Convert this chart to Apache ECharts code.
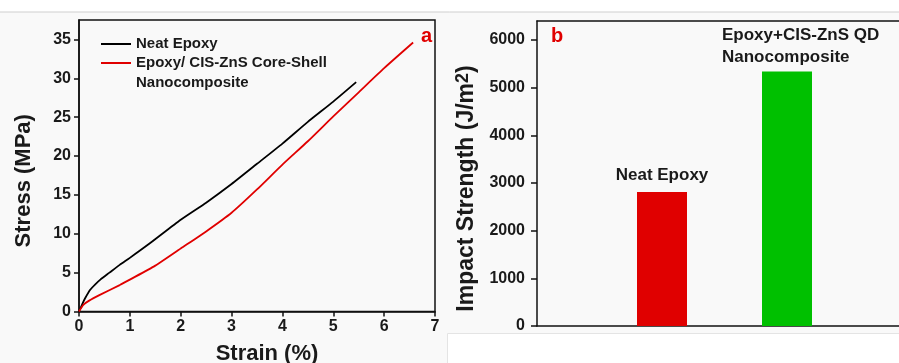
<!DOCTYPE html>
<html>
<head>
<meta charset="utf-8">
<script src="https://cdn.jsdelivr.net/npm/echarts@6/dist/echarts.min.js"></script>
<style>
  html, body { margin: 0; padding: 0; background: #f9f9f9; }
  #chart { width: 899px; height: 363px; }
</style>
</head>
<body>
<div id="chart"></div>
<script>
// panel a: stress-strain curves, [strain %, stress MPa]
var neatEpoxy = [[0, 0], [0.06, 0.9], [0.12, 1.7], [0.22, 2.8], [0.32, 3.5], [0.42, 4.1], [0.6, 5.0],
  [0.8, 6.0], [1.0, 6.9], [1.4, 8.8], [2.0, 11.8], [2.5, 14.0], [3.0, 16.4], [3.5, 19.0],
  [4.0, 21.6], [4.5, 24.4], [5.0, 27.0], [5.45, 29.5]];
var nanoComposite = [[0, 0], [0.085, 0.86], [0.2, 1.4], [0.41, 2.14], [0.8, 3.4], [1.0, 4.1],
  [1.5, 5.9], [2.0, 8.1], [2.5, 10.3], [3.0, 12.7], [3.5, 15.7], [4.0, 18.9], [4.5, 21.9],
  [5.0, 25.1], [5.5, 28.2], [6.0, 31.3], [6.57, 34.6]];
var curveNames = ['Neat Epoxy', 'Epoxy/ CIS-ZnS Core-Shell\nNanocomposite'];
var curveColors = ['#000000', '#e00000'];

// panel b: impact strength (J/m2)
var barNames = ['Neat Epoxy', 'Epoxy+CIS-ZnS QD\nNanocomposite'];
var barPos = [1, 2];
var impactValues = [2810, 5340];
var barColors = ['#e00000', '#00c000'];

var chart = echarts.init(document.getElementById('chart'));
var font = 'Liberation Sans, Arial, sans-serif';
var ink = '#1a1a1a';
var tickLabel = { color: ink, fontWeight: 'bold', fontSize: 16, fontFamily: font };
var axisLine = { lineStyle: { color: '#111', width: 1.5 } };
var tick = { length: 5, lineStyle: { color: '#111', width: 1.5 } };

var barData = [];
for (var i = 0; i < impactValues.length; i++) {
  var lab = { show: true, position: 'top', formatter: barNames[i],
    color: ink, fontWeight: 'bold', fontSize: 17, fontFamily: font, lineHeight: 22, distance: 6 };
  if (i == 1) { lab.align = 'left'; lab.offset = [-65, 0]; lab.distance = 3; }
  barData.push({ value: [barPos[i], impactValues[i]], itemStyle: { color: barColors[i] }, label: lab });
}

var option = {
  backgroundColor: '#f9f9f9',
  animation: false,
  title: [
    { text: 'a', left: 416, top: 21, textStyle: { color: '#e00000', fontSize: 20, fontWeight: 'bold', fontFamily: font } },
    { text: 'b', left: 546, top: 21, textStyle: { color: '#e00000', fontSize: 20, fontWeight: 'bold', fontFamily: font } }
  ],
  graphic: [
    { type: 'rect', left: 0, top: 0, shape: { width: 899, height: 12 }, style: { fill: '#fff' }, z: -1 },
    { type: 'line', shape: { x1: 0, y1: 12, x2: 899, y2: 12 }, style: { stroke: '#cfcfcf', lineWidth: 1 } },
    { type: 'rect', left: 447, top: 333, shape: { width: 452, height: 30 }, style: { fill: '#fff', stroke: '#e4e4e4' }, z: -1 }
  ],
  legend: {
    orient: 'vertical',
    left: 101, top: 33, padding: 0,
    itemWidth: 30, itemHeight: 2, itemGap: -21,
    icon: 'rect',
    data: [
      { name: curveNames[0], itemStyle: { color: curveColors[0] } },
      { name: curveNames[1], itemStyle: { color: curveColors[1] } }
    ],
    // blank first line keeps the swatch level with the first text line
    formatter: function (name) { return name.indexOf('\n') > 0 ? '\n' + name : name; },
    textStyle: { color: ink, fontWeight: 'bold', fontSize: 15, fontFamily: font, lineHeight: 20 }
  },
  grid: [
    { left: 79, top: 20, width: 356, height: 291.5, outerBoundsMode: 'none', show: true, borderColor: '#111', borderWidth: 1.5 },
    { left: 537, top: 21, right: 0, height: 305, outerBoundsMode: 'none' }
  ],
  xAxis: [
    { type: 'value', gridIndex: 0, min: 0, max: 7, interval: 1, splitLine: { show: false },
      axisLine: axisLine, axisTick: tick, axisLabel: Object.assign({ margin: 7 }, tickLabel),
      name: 'Strain (%)', nameLocation: 'middle', nameGap: 31,
      nameTextStyle: { color: ink, fontWeight: 'bold', fontSize: 22, fontFamily: font, padding: [0, 0, 0, 20] } },
    { type: 'value', gridIndex: 1, min: 0, max: 2.896, splitLine: { show: false },
      axisLine: axisLine, axisTick: { show: false }, axisLabel: { show: false } },
    { type: 'value', gridIndex: 1, position: 'top', min: 0, max: 2.896, splitLine: { show: false },
      axisLine: axisLine, axisTick: { show: false }, axisLabel: { show: false } }
  ],
  yAxis: [
    { type: 'value', gridIndex: 0, min: 0, max: 37.5, interval: 5, splitLine: { show: false },
      axisLine: axisLine, axisTick: tick,
      axisLabel: Object.assign({ showMaxLabel: false }, tickLabel),
      name: 'Stress (MPa)', nameLocation: 'middle', nameGap: 44,
      nameTextStyle: { color: ink, fontWeight: 'bold', fontSize: 22, fontFamily: font, padding: [0, 30, 0, 0] } },
    { type: 'value', gridIndex: 1, min: 0, max: 6400, interval: 1000, splitLine: { show: false },
      axisLine: axisLine, axisTick: { length: 6, lineStyle: { color: '#111', width: 1.5 } },
      axisLabel: Object.assign({ showMaxLabel: false, margin: 12, formatter: function (v) { return String(v); } }, tickLabel),
      name: '{a|Impact Strength (J/m}{s|2}{a|)}', nameLocation: 'middle', nameGap: 57,
      nameTextStyle: { padding: [0, 30, 0, 0],
        rich: { a: { color: ink, fontWeight: 'bold', fontSize: 23, fontFamily: font },
                s: { color: ink, fontWeight: 'bold', fontSize: 18, fontFamily: font, verticalAlign: 'top', padding: [0, 0, 8, 0] } } } }
  ],
  series: [
    { name: curveNames[0], type: 'line', xAxisIndex: 0, yAxisIndex: 0, data: neatEpoxy, smooth: 0.2,
      showSymbol: false, lineStyle: { color: curveColors[0], width: 1.8 }, itemStyle: { color: curveColors[0] } },
    { name: curveNames[1], type: 'line', xAxisIndex: 0, yAxisIndex: 0, data: nanoComposite, smooth: 0.2,
      showSymbol: false, lineStyle: { color: curveColors[1], width: 1.8 }, itemStyle: { color: curveColors[1] } },
    { name: 'Impact Strength', type: 'bar', xAxisIndex: 1, yAxisIndex: 1, barWidth: 50, data: barData }
  ]
};
chart.setOption(option);
</script>
</body>
</html>
